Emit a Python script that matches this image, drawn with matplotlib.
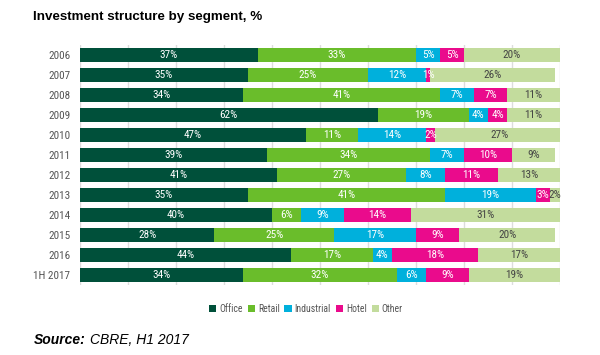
import matplotlib
matplotlib.use("Agg")
import matplotlib.pyplot as plt
from matplotlib.patches import Patch
import numpy as np

years = ["2006", "2007", "2008", "2009", "2010", "2011", "2012", "2013", "2014", "2015", "2016", "1H 2017"]
segments = ["Office", "Retail", "Industrial", "Hotel", "Other"]
office = [37, 35, 34, 62, 47, 39, 41, 35, 40, 28, 44, 34]
retail = [33, 25, 41, 19, 11, 34, 27, 41, 6, 25, 17, 32]
industrial = [5, 12, 7, 4, 14, 7, 8, 19, 9, 17, 4, 6]
hotel = [5, 1, 7, 4, 2, 10, 11, 3, 14, 9, 18, 9]
other = [20, 26, 11, 11, 27, 9, 13, 2, 31, 20, 17, 19]

colors = ["#00503a", "#6abd2b", "#00b0dc", "#ea0b8c", "#c3dc9d"]
label_colors = ["white", "white", "white", "white", "#444444"]

cond = ["Liberation Sans Narrow", "Roboto Condensed", "DejaVu Sans"]

fig = plt.figure(figsize=(6, 3.55), dpi=100)
ax = fig.add_axes([80/600, 1-285/355, 480/600, 240/355])

series = [office, retail, industrial, hotel, other]
y = np.arange(len(years))
left = np.zeros(len(years))
for vals, col, lc in zip(series, colors, label_colors):
    vals = np.array(vals, dtype=float)
    ax.barh(y, vals, left=left, height=0.7, color=col, zorder=2)
    for yi, (l, v) in enumerate(zip(left, vals)):
        ax.text(l + v/2, yi, f"{int(v)}%", ha="center", va="center",
                color=lc, fontsize=8, family=cond, zorder=3)
    left += vals

ax.set_xlim(0, 100)
ax.set_ylim(len(years) - 0.5, -0.5)
ax.set_xticks(np.arange(0, 101, 10))
ax.grid(axis="x", color="#dddddd", linewidth=1, zorder=0)
ax.tick_params(axis="x", length=0, labelbottom=False)
ax.tick_params(axis="y", length=0, pad=7)
ax.set_yticks(y)
ax.set_yticklabels(years, fontsize=8, color="#555555", family=cond)
for s in ax.spines.values():
    s.set_visible(False)

handles = [Patch(facecolor=c, edgecolor="none", label=s) for c, s in zip(colors, segments)]
leg = fig.legend(handles=handles, loc="center", bbox_to_anchor=(306/600, 1-309/355),
                 ncol=5, frameon=False, handlelength=0.75, handleheight=0.75,
                 handletextpad=0.3, columnspacing=0.5, prop={"family": cond, "size": 7})
for t in leg.get_texts():
    t.set_color("#555555")

fig.text(33/600, 1-17/355, "Investment structure by segment, %", fontsize=9.6,
         fontweight="bold", family="Liberation Sans", va="center", ha="left")
fig.text(34/600, 1-340/355, "Source:", fontsize=10, fontweight="bold", style="italic",
         family="Liberation Sans", va="center", ha="left")
fig.text(90/600, 1-340/355, "CBRE, H1 2017", fontsize=10, style="italic",
         family="Liberation Sans", va="center", ha="left")

fig.savefig("out.png", dpi=100)
